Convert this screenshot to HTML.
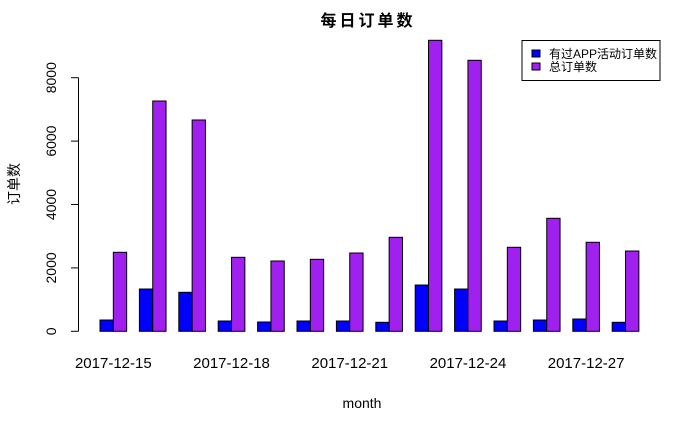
<!DOCTYPE html>
<html><head><meta charset="utf-8"><style>
body{margin:0;background:#fff}
svg text{font-family:"Liberation Sans","Noto Sans CJK SC",sans-serif}
</style></head><body>
<svg width="700" height="432" xmlns="http://www.w3.org/2000/svg">
<text x="368" y="26" text-anchor="middle" font-size="16" font-weight="bold" letter-spacing="3">每日订单数</text>
<g id="bars"></g>
<g id="yaxis"></g>
<g id="xaxis"></g>
<text x="362" y="408" text-anchor="middle" font-size="14">month</text>
<text transform="translate(19,184) rotate(-90)" text-anchor="middle" font-size="14">订单数</text>
<g>
<rect x="522" y="40.5" width="138" height="40" fill="#fff" stroke="#000" stroke-width="1"/>
<rect x="532" y="50" width="8" height="7" fill="#0000ff" stroke="#000"/>
<text x="549" y="58" font-size="12">有过APP活动订单数</text>
<rect x="532" y="63" width="8" height="7" fill="#a020f0" stroke="#000"/>
<text x="549" y="71" font-size="12">总订单数</text>
</g>
</svg>
<script>
const categories=["2017-12-15","2017-12-16","2017-12-17","2017-12-18","2017-12-19","2017-12-20","2017-12-21","2017-12-22","2017-12-23","2017-12-24","2017-12-25","2017-12-26","2017-12-27","2017-12-28"];
const appOrders=[356,1334,1230,325,294,325,325,284,1460,1334,325,356,388,284];
const totalOrders=[2492,7265,6666,2334,2218,2271,2470,2965,9180,8549,2650,3565,2808,2533];
const yTicks=[0,2000,4000,6000,8000];
const NS="http://www.w3.org/2000/svg";
const y0=331.3,pxPer=253.6/8000;
const yScale=v=>y0-v*pxPer;
const barW=13.33,gap=39.4,x0=100;
const xGroup=i=>x0+i*gap;
function mk(tag,attrs,parent){const e=document.createElementNS(NS,tag);for(const k in attrs)e.setAttribute(k,attrs[k]);parent.appendChild(e);return e;}
const bars=document.getElementById('bars');
categories.forEach((c,i)=>{
  const x=xGroup(i);
  const b=mk('rect',{x:x,y:yScale(appOrders[i]),width:barW,height:appOrders[i]*pxPer,fill:'#0000ff',stroke:'#000','stroke-width':1},bars);
  
  
  const t=mk('rect',{x:x+barW,y:yScale(totalOrders[i]),width:barW,height:totalOrders[i]*pxPer,fill:'#a020f0',stroke:'#000','stroke-width':1},bars);
  
  
});
const ya=document.getElementById('yaxis');
const yl=mk('line',{x1:78.5,x2:78.5,y1:yScale(0),y2:yScale(8000),stroke:'#000'},ya);


yTicks.forEach(v=>{
  const tk=mk('line',{x1:71,x2:78.5,y1:yScale(v),y2:yScale(v),stroke:'#000'},ya);
  
  
  const tl=mk('text',{transform:`translate(56,${yScale(v)}) rotate(-90)`,'text-anchor':'middle','font-size':14},ya);
  tl.textContent=v;
  
  
});
const xa=document.getElementById('xaxis');
categories.forEach((c,i)=>{
  if(i%3!==0)return;
  const t=mk('text',{x:xGroup(i)+barW,y:368,'text-anchor':'middle','font-size':15},xa);
  t.textContent=c;
  
  
});
</script>
</body></html>
